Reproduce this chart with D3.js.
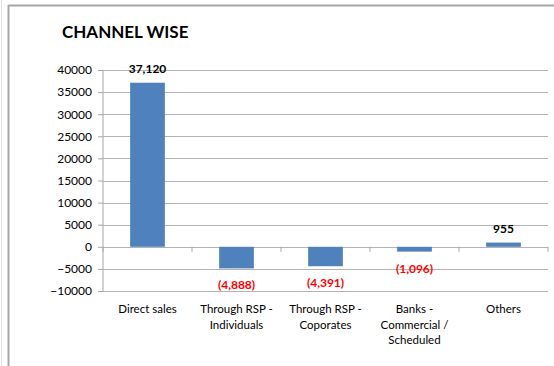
<!DOCTYPE html>
<html>
<head>
<meta charset="utf-8">
<script src="https://cdn.jsdelivr.net/npm/d3@7"></script>
<style>
  html, body { margin: 0; padding: 0; background: #fff; }
  svg { display: block; font-family: Lato, "Open Sans", "Liberation Sans", sans-serif; }
</style>
</head>
<body>
<svg id="chart" width="554" height="366"></svg>
<script>
// Channel-wise figures
const categories = [
  ["Direct sales"],
  ["Through RSP -", "Individuals"],
  ["Through RSP -", "Coporates"],
  ["Banks -", "Commercial /", "Scheduled"],
  ["Others"]
];
const values = [37120, -4888, -4391, -1096, 955];
const yTicks = [40000, 35000, 30000, 25000, 20000, 15000, 10000, 5000, 0, -5000, -10000];

const svg = d3.select("#chart");
const plot = { left: 103, right: 548, top: 70, bottom: 291 };

const x = d3.scaleBand()
  .domain(d3.range(categories.length))
  .range([plot.left, plot.right])
  .paddingInner(0.61)
  .paddingOuter(0.305);

const y = d3.scaleLinear()
  .domain([-10000, 40000])
  .range([plot.bottom, plot.top]);

// Outer frame
svg.append("line").attr("x1", 1.5).attr("x2", 1.5).attr("y1", 0).attr("y2", 366)
  .attr("stroke", "#e2e2e2").attr("stroke-width", 1);
svg.append("line").attr("x1", 8.5).attr("x2", 554).attr("y1", 5.5).attr("y2", 5.5)
  .attr("stroke", "#a6a6a6").attr("stroke-width", 2);
svg.append("line").attr("x1", 8.5).attr("x2", 8.5).attr("y1", 5).attr("y2", 366)
  .attr("stroke", "#a6a6a6").attr("stroke-width", 2);

// Title
svg.append("text")
  .attr("x", 62).attr("y", 38)
  .attr("font-size", 17).attr("font-weight", "bold").attr("fill", "#000")
  .text("CHANNEL WISE");

// Gridlines and value axis
const yAxis = d3.axisLeft(y).tickValues(yTicks).tickSize(5).tickPadding(6).tickFormat(d3.format("d"));
const gy = svg.append("g").attr("transform", `translate(${plot.left},0)`).call(yAxis);
gy.select(".domain").attr("stroke", "#a6a6a6").attr("d", `M0,${plot.top}V${plot.bottom}`);
gy.selectAll(".tick line").attr("stroke", "#a6a6a6");
gy.selectAll(".tick text").attr("font-size", 12).attr("fill", "#000")
  .attr("font-family", "Lato, 'Open Sans', sans-serif");

svg.append("g").selectAll("line").data(yTicks).join("line")
  .attr("x1", plot.left).attr("x2", plot.right)
  .attr("y1", d => Math.round(y(d)) + 0.5).attr("y2", d => Math.round(y(d)) + 0.5)
  .attr("stroke", "#b3b3b3").attr("stroke-width", 1.2);

// Category axis on zero line
const step = x.step();
const catTicks = d3.range(categories.length + 1).map(i => plot.left + i * step);
svg.append("g").selectAll("line").data(catTicks).join("line")
  .attr("x1", d => d).attr("x2", d => d)
  .attr("y1", y(0)).attr("y2", y(0) + 5)
  .attr("stroke", "#a6a6a6");

// Bars
svg.append("g").selectAll("rect").data(values).join("rect")
  .attr("x", (d, i) => x(i))
  .attr("width", x.bandwidth())
  .attr("y", d => y(Math.max(0, d)))
  .attr("height", d => Math.abs(y(d) - y(0)))
  .attr("fill", "#4f81bd");

// Data labels
const fmt = d3.format(",");
svg.append("g").selectAll("text").data(values).join("text")
  .attr("x", (d, i) => x(i) + x.bandwidth() / 2)
  .attr("y", d => d >= 0 ? y(d) - 10 : y(d) + 21)
  .attr("text-anchor", "middle")
  .attr("font-size", 12).attr("font-weight", "bold")
  .attr("fill", d => d >= 0 ? "#000" : "#ff0000")
  .text(d => d >= 0 ? fmt(d) : `(${fmt(-d)})`);

// Category labels
const cat = svg.append("g").selectAll("text").data(categories).join("text")
  .attr("text-anchor", "middle")
  .attr("font-size", 11.5).attr("fill", "#000");
cat.selectAll("tspan").data((d, i) => d.map(t => ({ t, i }))).join("tspan")
  .attr("x", d => x(d.i) + x.bandwidth() / 2)
  .attr("y", (d, j) => 313 + j * 15.5)
  .text(d => d.t);
</script>
</body>
</html>
